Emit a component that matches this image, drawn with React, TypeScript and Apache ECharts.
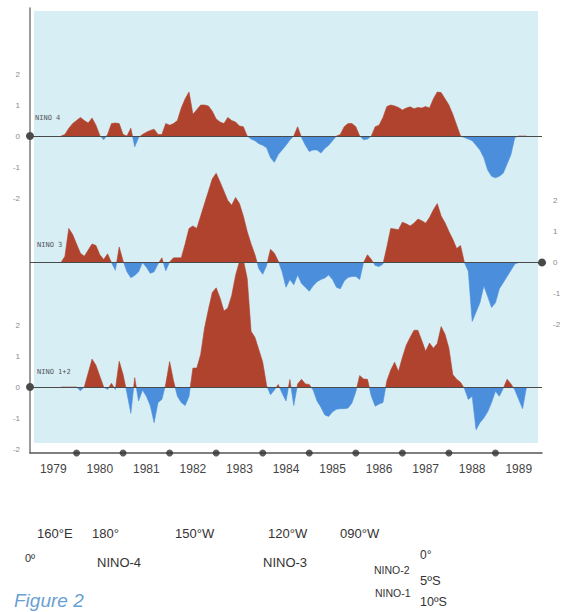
import React, { useEffect, useRef } from 'react';
import * as echarts from 'echarts';

// Monthly SST anomalies (°C), starting September 1979
const START_YEAR = 1979;
const START_MONTH = 8;

const YEAR_LABELS = ['1979', '1980', '1981', '1982', '1983', '1984', '1985', '1986', '1987', '1988', '1989'];
const YEAR_BOUNDARIES = [1980, 1981, 1982, 1983, 1984, 1985, 1986, 1987, 1988, 1989];
const TICK_VALUES = [-2, -1, 0, 1, 2];

const NINO4 = [
  0, 0.05, 0.25, 0.4, 0.5, 0.6, 0.5, 0.42, 0.58, 0.35, 0.02, -0.12, 0.05, 0.4, 0.42, 0.4,
  0.05, 0.0, 0.25, -0.35, -0.05, 0.05, 0.12, 0.18, 0.22, 0.05, 0.05, 0.4, 0.35, 0.4, 0.5, 0.9,
  1.2, 1.42, 0.7, 0.85, 1.0, 1.0, 0.97, 0.8, 0.55, 0.45, 0.4, 0.6, 0.5, 0.45, 0.32, 0.3,
  0.0, -0.1, -0.15, -0.25, -0.3, -0.38, -0.7, -0.85, -0.6, -0.45, -0.3, -0.13, 0.0, 0.3, -0.05, -0.3,
  -0.5, -0.45, -0.45, -0.55, -0.4, -0.3, -0.15, 0.0, 0.05, 0.3, 0.4, 0.4, 0.3, 0.0, -0.12, -0.1,
  0.0, 0.3, 0.35, 0.6, 0.95, 1.0, 0.97, 0.92, 0.84, 0.9, 0.94, 0.88, 0.92, 0.9, 0.95, 0.9,
  1.2, 1.42, 1.4, 1.2, 1.0, 0.7, 0.35, 0.0, -0.05, -0.1, -0.15, -0.3, -0.45, -0.7, -1.1, -1.3,
  -1.35, -1.3, -1.2, -0.9, -0.6, -0.05, 0, 0, 0,
];

const NINO3 = [
  0, 0.2, 1.1, 0.9, 0.6, 0.3, 0.2, 0.4, 0.6, 0.55, 0.25, 0.1, 0.28, 0.0, -0.25, 0.5,
  0.05, -0.3, -0.49, -0.42, -0.3, 0.0, -0.15, -0.35, -0.3, -0.05, 0.15, -0.27, 0.02, 0.15, 0.15, 0.15,
  0.6, 1.1, 1.18, 1.1, 1.5, 1.9, 2.3, 2.7, 2.88, 2.6, 2.3, 2.0, 1.85, 2.1, 1.9, 1.5,
  1.0, 0.6, 0.25, -0.2, -0.38, -0.1, 0.43, 0.3, 0.05, -0.3, -0.8, -0.55, -0.72, -0.4, -0.68, -0.8,
  -0.93, -0.75, -0.62, -0.55, -0.5, -0.4, -0.55, -0.8, -0.85, -0.6, -0.48, -0.45, -0.45, -0.55, 0.0, 0.25,
  0.1, -0.1, -0.13, -0.05, 0.5, 1.1, 1.08, 1.06, 1.3, 1.25, 1.18, 1.27, 1.4, 1.35, 1.27, 1.45,
  1.7, 1.9, 1.5, 1.28, 1.0, 0.75, 0.45, 0.55, 0.0, -0.28, -1.9, -1.6, -1.3, -0.75, -1.1, -1.45,
  -1.3, -0.85, -0.65, -0.45, -0.25, -0.05, 0, 0, 0,
];

const NINO12 = [
  0, 0, 0, 0, 0, -0.12, 0.0, 0.45, 0.9, 0.7, 0.35, 0.0, -0.08, 0.12, -0.08, 0.83,
  0.4, -0.2, -0.85, 0.3, -0.45, -0.1, -0.3, -0.6, -1.15, -0.5, -0.4, 0.1, 0.82, 0.2, -0.3, -0.5,
  -0.6, -0.3, 0.61, 0.61, 1.05, 1.9, 2.5, 3.05, 3.2, 2.87, 2.45, 2.55, 2.95, 3.6, 4.05, 4.1,
  3.5, 1.8, 1.6, 1.2, 0.8, 0.05, -0.25, -0.1, 0.08, -0.2, -0.45, 0.24, -0.6, 0.1, 0.25, 0.1,
  0.08, -0.1, -0.45, -0.65, -0.9, -0.95, -0.8, -0.72, -0.7, -0.7, -0.68, -0.52, -0.15, 0.37, 0.26, 0.25,
  -0.3, -0.62, -0.55, -0.5, 0.2, 0.55, 0.8, 0.5, 0.95, 1.35, 1.6, 1.83, 1.83, 1.5, 1.15, 1.42,
  1.25, 1.4, 1.95, 1.7, 1.25, 0.4, 0.25, 0.15, -0.05, -0.4, -0.3, -1.38, -1.15, -1.0, -0.8, -0.5,
  -0.14, -0.3, -0.05, 0.25, 0.1, -0.1, -0.4, -0.7, 0.0,
];

const SERIES_NAMES = ['NINO 4', 'NINO 3', 'NINO 1+2'];

// Layout
const W = 564;
const H = 612;
const GRID_LEFT = 30;
const GRID_RIGHT = 22;
const GRID_TOP = 8;
const GRID_BOTTOM_Y = 453;
const PX_PER_UNIT = 31;
const ZERO_Y = [136, 262.5, 387];

const RED = '#b0432d';
const BLUE = '#4b8fdc';
const BG = '#d8eef5';
const SANS = 'Liberation Sans, Arial, Helvetica, sans-serif';
const MONO = 'DejaVu Sans Mono, monospace';

function toPairs(arr: number[]) {
  return arr.map((v, i) => [START_YEAR + (START_MONTH + i) / 12, v]);
}

function yRange(zeroY: number) {
  return {
    max: (zeroY - GRID_TOP) / PX_PER_UNIT,
    min: -(GRID_BOTTOM_Y - zeroY) / PX_PER_UNIT,
  };
}

export default function App() {
  const ref = useRef<HTMLDivElement>(null);

  useEffect(() => {
    document.body.style.margin = '0';
    const chart = echarts.init(ref.current!, null, { renderer: 'svg' });
    const gridBox = { left: GRID_LEFT, right: GRID_RIGHT, top: GRID_TOP, bottom: H - GRID_BOTTOM_Y };
    const datasets = [NINO4, NINO3, NINO12];

    const yAxes: any[] = ZERO_Y.map((z, i) => {
      const r = yRange(z);
      return {
        gridIndex: i,
        type: 'value',
        min: r.min,
        max: r.max,
        position: i === 1 ? 'right' : 'left',
        axisLine: { show: i === 0, onZero: false, lineStyle: { color: '#7a7a7a', width: 1.5 } },
        axisTick: { show: false },
        splitLine: { show: false },
        axisLabel: {
          customValues: TICK_VALUES,
          fontSize: 8,
          color: '#8a8a8a',
          margin: i === 1 ? 11 : 10,
          fontFamily: SANS,
        },
      };
    });
    yAxes.push({ gridIndex: 3, type: 'value', min: 0, max: 1, show: false });

    const xAxes: any[] = [0, 1, 2].map((i) => ({
      gridIndex: i,
      type: 'value',
      min: 1979,
      max: 1990,
      show: false,
    }));
    xAxes.push({
      gridIndex: 3,
      type: 'category',
      data: YEAR_LABELS,
      position: 'bottom',
      boundaryGap: true,
      axisLine: { show: true, onZero: false, lineStyle: { color: '#555', width: 1.5 } },
      axisTick: { show: false },
      axisLabel: { color: '#444', fontSize: 12, margin: 10, interval: 0, fontFamily: SANS },
    });
    xAxes.push({ gridIndex: 3, type: 'value', min: 1979, max: 1990, show: false, position: 'top' });

    const series: any[] = datasets.map((d, i) => ({
      name: SERIES_NAMES[i],
      type: 'line',
      xAxisIndex: i,
      yAxisIndex: i,
      data: toPairs(d),
      showSymbol: false,
      symbol: 'none',
      lineStyle: { width: 0.6 },
      areaStyle: { opacity: 1 },
      z: 2 + i,
      markLine: {
        silent: true,
        symbol: i === 1 ? ['none', 'circle'] : ['circle', 'none'],
        symbolSize: 8,
        label: { show: false },
        lineStyle: { color: '#4a4a4a', width: 1.2, type: 'solid' },
        data: [{ yAxis: 0 }],
      },
    }));
    series.push({
      type: 'scatter',
      xAxisIndex: 4,
      yAxisIndex: 3,
      data: YEAR_BOUNDARIES.map((y) => [y, 0]),
      symbolSize: 7,
      itemStyle: { color: '#333' },
      clip: false,
      silent: true,
      z: 10,
    });

    const txt = (text: string, x: number, y: number, size: number, extra: any = {}) => ({
      type: 'text',
      x,
      y,
      style: {
        text,
        fontSize: size,
        fontFamily: SANS,
        fill: '#333',
        verticalAlign: 'middle',
        ...extra,
      },
    });

    const option: any = {
      animation: false,
      backgroundColor: '#fff',
      grid: [gridBox, gridBox, gridBox, gridBox],
      xAxis: xAxes,
      yAxis: yAxes,
      visualMap: {
        type: 'piecewise',
        show: false,
        seriesIndex: [0, 1, 2],
        dimension: 1,
        pieces: [
          { gte: -10, lte: 0, color: BLUE },
          { gt: 0, lte: 10, color: RED },
        ],
        outOfRange: { color: RED },
      },
      series,
      graphic: [
        {
          type: 'rect',
          z: -10,
          silent: true,
          shape: { x: 34, y: 11, width: 504, height: 432 },
          style: { fill: BG },
        },
        txt(SERIES_NAMES[0], 35, 118, 7, { fontFamily: MONO, fill: '#555' }),
        txt(SERIES_NAMES[1], 37, 245, 7, { fontFamily: MONO, fill: '#555' }),
        txt(SERIES_NAMES[2], 37, 372, 7, { fontFamily: MONO, fill: '#555' }),
        txt('160°E', 37, 533, 13),
        txt('180°', 92, 533, 13),
        txt('150°W', 175, 533, 13),
        txt('120°W', 268, 533, 13),
        txt('090°W', 340, 533, 13),
        txt('0º', 25, 558, 11),
        txt('NINO-4', 97, 562, 13),
        txt('NINO-3', 263, 562, 13),
        txt('0°', 420, 555, 12),
        txt('NINO-2', 374, 570, 10.5),
        txt('5ºS', 420, 580, 13),
        txt('NINO-1', 375, 593, 10.5),
        txt('10ºS', 420, 602, 12.5),
        txt('Figure 2', 14, 610, 19, {
          verticalAlign: 'bottom',
          fontStyle: 'italic',
          fill: '#6a9fd3',
        }),
      ],
    };

    chart.setOption(option);
    return () => chart.dispose();
  }, []);

  return <div ref={ref} style={{ width: W, height: H }} />;
}
